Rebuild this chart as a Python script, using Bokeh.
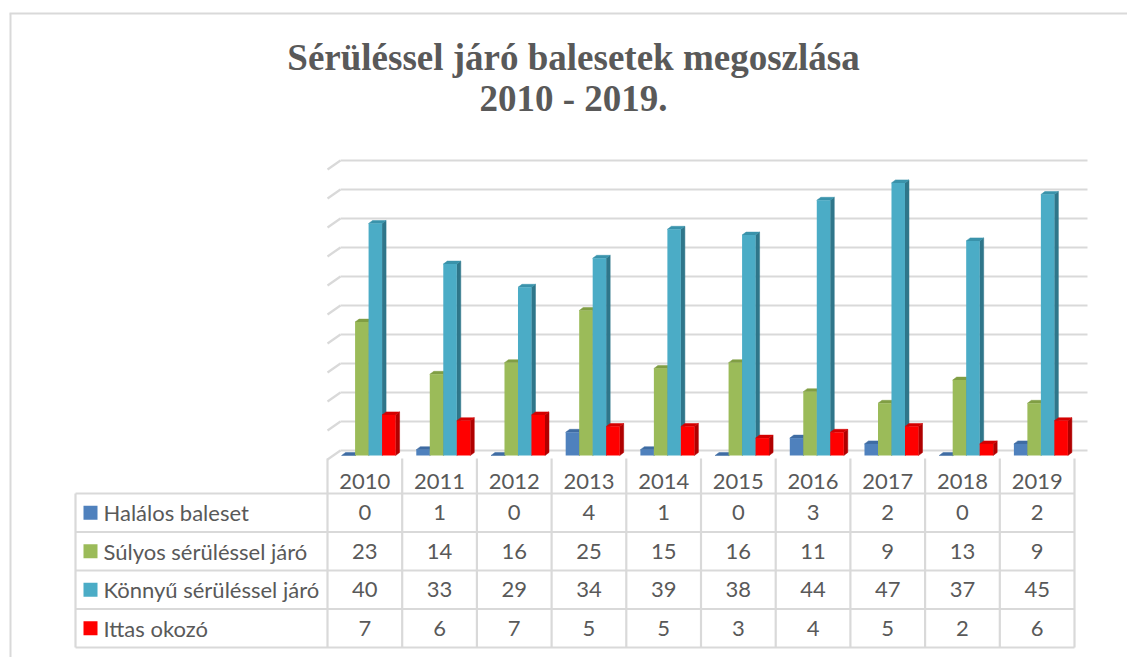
from bokeh.plotting import figure
from bokeh.models import Range1d
from bokeh.core.properties import value
from bokeh.embed import file_html
from bokeh.resources import INLINE

# ---------------- data ----------------
years = ["2010", "2011", "2012", "2013", "2014", "2015", "2016", "2017", "2018", "2019"]
halalos = [0, 1, 0, 4, 1, 0, 3, 2, 0, 2]
sulyos = [23, 14, 16, 25, 15, 16, 11, 9, 13, 9]
konnyu = [40, 33, 29, 34, 39, 38, 44, 47, 37, 45]
ittas = [7, 6, 7, 5, 5, 3, 4, 5, 2, 6]
series_names = ["Halálos baleset", "Súlyos sérüléssel járó", "Könnyű sérüléssel járó", "Ittas okozó"]
y_ticks = [0, 5, 10, 15, 20, 25, 30, 35, 40, 45, 50]
title_lines = ["Sérüléssel járó balesetek megoszlása", "2010 - 2019."]

series = [halalos, sulyos, konnyu, ittas]
front_colors = ["#4f81bd", "#9bbb59", "#4bacc6", "#ff0000"]
top_colors = ["#3f6ca3", "#809e44", "#3a93ab", "#d40000"]
side_colors = ["#365a86", "#6b8536", "#2f768a", "#b00000"]

# ---------------- layout helpers ----------------
FW, FH = 1127, 657
OX, OY = 0, 0
COL0, COLW = 327.0, 74.7
Y0, PXU = 455.0, 5.8


def dx(img_x):
    return (img_x - COL0) / COLW


def dy(img_y):
    return (Y0 - img_y) / PXU


p = figure(width=FW, height=FH, output_backend="svg", toolbar_location=None,
           x_range=Range1d(dx(OX), dx(OX + FW)), y_range=Range1d(dy(OY + FH), dy(OY)),
           x_axis_type=None, y_axis_type=None, min_border=0)
p.grid.visible = False
p.outline_line_color = None
p.background_fill_color = "white"
p.border_fill_color = "white"

GRID = "#d9d9d9"
TXT = "#595959"

# outer frame (left and top edges)
p.segment(x0=[dx(10), dx(9)], y0=[dy(13), dy(13)], x1=[dx(10), dx(1140)], y1=[dy(660), dy(13)],
          line_color=GRID, line_width=2)

# back-wall gridlines with 3D stubs
back_off = 5 / PXU
stub = 9 / PXU
gx0, gx1, gs = dx(340), dx(1087), dx(327)
p.segment(x0=[gx0] * len(y_ticks), y0=[v + back_off for v in y_ticks],
          x1=[gx1] * len(y_ticks), y1=[v + back_off for v in y_ticks],
          line_color=GRID, line_width=2.2)
p.segment(x0=[gs] * len(y_ticks), y0=[v + back_off - stub for v in y_ticks],
          x1=[gx0] * len(y_ticks), y1=[v + back_off for v in y_ticks],
          line_color=GRID, line_width=2.2)

# 3D bars
BW = 13.5 / COLW
GOFF = 0.05
DX = 4 / COLW
DY = 3 / PXU
for s, vals in enumerate(series):
    lefts = [i + 0.5 + GOFF - 2 * BW + s * BW for i in range(len(years))]
    rights = [l + BW for l in lefts]
    side_xs = [[r, r + DX, r + DX, r] for r in rights]
    side_ys = [[0, DY, v + DY, v] for v in vals]
    top_xs = [[l, l + DX, r + DX, r] for l, r in zip(lefts, rights)]
    top_ys = [[v, v + DY, v + DY, v] for v in vals]
    p.patches(xs=side_xs, ys=side_ys, fill_color=side_colors[s], line_color=side_colors[s], line_width=0.5)
    p.patches(xs=top_xs, ys=top_ys, fill_color=top_colors[s], line_color=top_colors[s], line_width=0.5)
    p.quad(left=lefts, right=rights, bottom=[0] * len(vals), top=vals,
           fill_color=front_colors[s], line_color=None)

# data table
ncol = len(years)
TBL_L = 75.0
TBL_R = COL0 + ncol * COLW
ROW0, ROWH = 493.0, 38.5
row_edges = [ROW0 + r * ROWH for r in range(len(series_names) + 1)]
p.segment(x0=[dx(TBL_L)] * len(row_edges), y0=[dy(y) for y in row_edges],
          x1=[dx(TBL_R)] * len(row_edges), y1=[dy(y) for y in row_edges],
          line_color=GRID, line_width=2.2)
vx = [k for k in range(ncol + 1)]
p.segment(x0=vx, y0=[dy(458)] * len(vx), x1=vx, y1=[dy(row_edges[-1])] * len(vx),
          line_color=GRID, line_width=2.2)
p.segment(x0=[dx(TBL_L)], y0=[dy(ROW0)], x1=[dx(TBL_L)], y1=[dy(row_edges[-1])],
          line_color=GRID, line_width=2.2)

FONT = value("Lato")
FS = "22px"
centers = [i + 0.5 for i in range(ncol)]
p.text(x=centers, y=[dy(480.5)] * ncol, text=years, text_font=FONT, text_font_size=FS,
       text_color=TXT, text_align="center", text_baseline="middle")
for r, (name, vals) in enumerate(zip(series_names, series)):
    yc = dy(ROW0 + (r + 0.5) * ROWH)
    p.text(x=centers, y=[yc] * ncol, text=[str(v) for v in vals], text_font=FONT,
           text_font_size=FS, text_color=TXT, text_align="center", text_baseline="middle")
    p.scatter(x=[dx(90)], y=[yc], marker="square", size=14, fill_color=front_colors[r], line_color=None)
    p.text(x=[dx(103)], y=[yc], text=[name], text_font=FONT, text_font_size=FS,
           text_color=TXT, text_align="left", text_baseline="middle")

# title
p.text(x=[dx(573)] * 2, y=[dy(57), dy(98)], text=title_lines, text_font=value("Liberation Serif"),
       text_font_size="37px", text_font_style="bold", text_color=TXT,
       text_align="center", text_baseline="middle")

open("out.html", "w").write(file_html(p, INLINE))
